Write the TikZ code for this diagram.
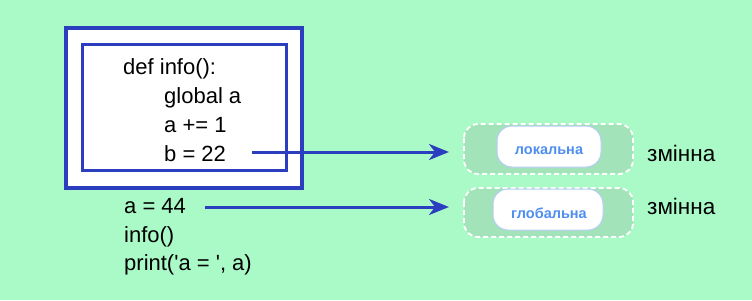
\documentclass[tikz,border=0pt]{standalone}
\usepackage{fontspec}
\setmainfont{Liberation Sans}
\usepackage{tikz}
\usetikzlibrary{arrows.meta,positioning,calc}
\definecolor{Mint}{HTML}{AAFAC8}
\definecolor{Leaf}{HTML}{A3E3BA}
\definecolor{Navy}{HTML}{2B3EC0}
\definecolor{Sky}{HTML}{4F8FF0}
\definecolor{Edge}{HTML}{B8CCF5}
\tikzset{
 code/.style={anchor=base west,inner sep=0pt,font=\fontsize{22}{26}\selectfont},
 frame/.style={draw=Navy,fill=white},
 slot/.style={draw=white,fill=Leaf,dashed,dash pattern=on 5pt off 3pt,line width=1.8pt,rounded corners=14pt},
 pill/.style={draw=Edge,fill=white,line width=1pt,rounded corners=15pt},
 tag/.style={inner sep=0pt,text=Sky,font=\fontsize{14.5}{17}\selectfont\bfseries},
 word/.style={anchor=west,inner sep=0pt,font=\fontsize{22.5}{26}\selectfont},
 arr/.style={-{Stealth[length=20pt,width=16pt,inset=6pt]},line width=3pt,draw=Navy}
}
\begin{document}
\begin{tikzpicture}[x=1pt,y=-1pt]
\fill[Mint] (0,0) rectangle (752,300);
\useasboundingbox (0,0) rectangle (752,300);
% function body frames
\draw[frame,line width=4pt] (66,28) rectangle (302,188);
\draw[frame,line width=3pt] (82,44) rectangle (286,170);
\node[code] (def) at (123,74) {def info():};
\node[code] (glob) at (164,103) {global a};
\node[code] (inc) at (164,132) {a += 1};
\node[code] (lineb) at (164,161) {b = 22};
\node[code] (linea) at (124,213) {a = 44};
\node[code] (call) at (124,242) {info()};
\node[code] (prnt) at (124,270) {print(\textquotesingle a = \textquotesingle, a)};
% variable kinds
\draw[slot] (464,124) rectangle (633,174);
\draw[slot] (464,188) rectangle (633,237);
\draw[pill] (497,126) rectangle (601,167);
\draw[pill] (493,189) rectangle (603,230);
\node[tag] (loc) at (549,151) {локальна};
\node[tag] (glo) at (549,213) {глобальна};
\node[word] (w1) at (647,153) {змінна};
\node[word] (w2) at (647,206) {змінна};
\coordinate (lbar) at (252,152);
\coordinate (lbox) at (449,152);
\coordinate (gbar) at (205,207);
\coordinate (gbox) at (449,207);
\draw[arr] (lbar)--(lbox);
\draw[arr] (gbar)--(gbox);
\end{tikzpicture}
\end{document}
